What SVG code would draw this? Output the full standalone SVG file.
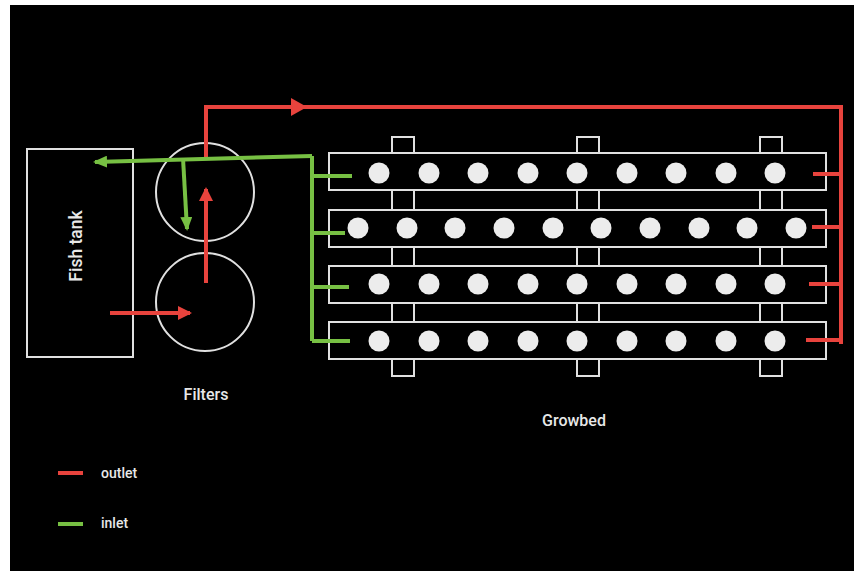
<svg xmlns="http://www.w3.org/2000/svg" width="854" height="571" viewBox="0 0 854 571">
<defs>
<style>
.w{fill:none;stroke:#e0e0e0;stroke-width:2}
.row{fill:#000;stroke:#e0e0e0;stroke-width:2}
.dot{fill:#ececec}
.r{fill:none;stroke:#e8433d;stroke-width:4;stroke-linejoin:miter}
.g{fill:none;stroke:#77c043;stroke-width:4;stroke-linejoin:miter}
.t{font-family:Roboto,"Liberation Sans",sans-serif;font-weight:500;fill:#e8e8e8}
</style>
<marker id="ar" markerUnits="userSpaceOnUse" viewBox="0 0 14 14" refX="12" refY="7" markerWidth="14" markerHeight="14" orient="auto"><path d="M0,0 L14,7 L0,14 Z" fill="#e8433d"/></marker>
<marker id="ag" markerUnits="userSpaceOnUse" viewBox="0 0 14 12" refX="12" refY="6" markerWidth="14" markerHeight="12" orient="auto"><path d="M0,0 L14,6 L0,12 Z" fill="#77c043"/></marker>
<marker id="arb" markerUnits="userSpaceOnUse" viewBox="0 0 16 18" refX="14" refY="9" markerWidth="16" markerHeight="18" orient="auto"><path d="M0,0 L16,9 L0,18 Z" fill="#e8433d"/></marker>
</defs>
<rect x="0" y="0" width="854" height="571" fill="#fff"/>
<rect x="10" y="5" width="844" height="566" fill="#000"/>

<g id="fish-tank">
<rect class="w" x="27" y="149" width="106" height="208"/>
<text class="t" font-size="17.5" text-anchor="middle" transform="translate(82,246) rotate(-90)">Fish tank</text>
</g>

<g id="filters">
<circle class="w" cx="205" cy="192" r="49"/>
<circle class="w" cx="205" cy="302" r="49"/>
<text class="t" font-size="16" text-anchor="middle" x="206" y="400">Filters</text>
</g>

<g id="growbed">
<rect class="w" x="392" y="137" width="22" height="239"/>
<rect class="w" x="577" y="137" width="22" height="239"/>
<rect class="w" x="760" y="137" width="22" height="239"/>
<rect class="row" x="329" y="153" width="497" height="37"/>
<rect class="row" x="329" y="210" width="497" height="37"/>
<rect class="row" x="329" y="266" width="497" height="37"/>
<rect class="row" x="329" y="322" width="497" height="37"/>
<g class="dot">
<circle cx="379" cy="173" r="10.5"/><circle cx="429" cy="173" r="10.5"/><circle cx="478" cy="173" r="10.5"/><circle cx="528" cy="173" r="10.5"/><circle cx="577" cy="173" r="10.5"/><circle cx="627" cy="173" r="10.5"/><circle cx="676" cy="173" r="10.5"/><circle cx="726" cy="173" r="10.5"/><circle cx="775" cy="173" r="10.5"/>
<circle cx="358" cy="228" r="10.5"/><circle cx="407" cy="228" r="10.5"/><circle cx="455" cy="228" r="10.5"/><circle cx="504" cy="228" r="10.5"/><circle cx="553" cy="228" r="10.5"/><circle cx="601" cy="228" r="10.5"/><circle cx="650" cy="228" r="10.5"/><circle cx="699" cy="228" r="10.5"/><circle cx="747" cy="228" r="10.5"/><circle cx="796" cy="228" r="10.5"/>
<circle cx="379" cy="284" r="10.5"/><circle cx="429" cy="284" r="10.5"/><circle cx="478" cy="284" r="10.5"/><circle cx="528" cy="284" r="10.5"/><circle cx="577" cy="284" r="10.5"/><circle cx="627" cy="284" r="10.5"/><circle cx="676" cy="284" r="10.5"/><circle cx="726" cy="284" r="10.5"/><circle cx="775" cy="284" r="10.5"/>
<circle cx="379" cy="341" r="10.5"/><circle cx="429" cy="341" r="10.5"/><circle cx="478" cy="341" r="10.5"/><circle cx="528" cy="341" r="10.5"/><circle cx="577" cy="341" r="10.5"/><circle cx="627" cy="341" r="10.5"/><circle cx="676" cy="341" r="10.5"/><circle cx="726" cy="341" r="10.5"/><circle cx="775" cy="341" r="10.5"/>
</g>
<text class="t" font-size="16" text-anchor="middle" x="574" y="426">Growbed</text>
</g>

<g id="connectors">
<path class="r" d="M206,158 V107 H841 V344"/>
<path class="r" d="M206,107 H305" marker-end="url(#arb)"/>
<path class="r" d="M813,174 H841 M812,227 H841 M809,284 H841 M806,340 H841"/>
<path class="r" d="M206,283 V189" marker-end="url(#ar)"/>
<path class="r" d="M110,313 H190" marker-end="url(#ar)"/>
<path class="g" d="M312,156 L95,162" marker-end="url(#ag)"/>
<path class="g" d="M312,156 V341"/>
<path class="g" d="M312,176 H352 M312,233 H345 M312,287 H349 M312,341 H350"/>
<path class="g" d="M183,158 L187,229" marker-end="url(#ag)"/>
</g>

<g id="legend">
<line x1="58" y1="473" x2="83" y2="473" stroke="#e8433d" stroke-width="4"/>
<line x1="58" y1="524" x2="83" y2="524" stroke="#77c043" stroke-width="4"/>
<text class="t" font-size="14" x="101" y="478">outlet</text>
<text class="t" font-size="14" x="101" y="528">inlet</text>
</g>
</svg>
